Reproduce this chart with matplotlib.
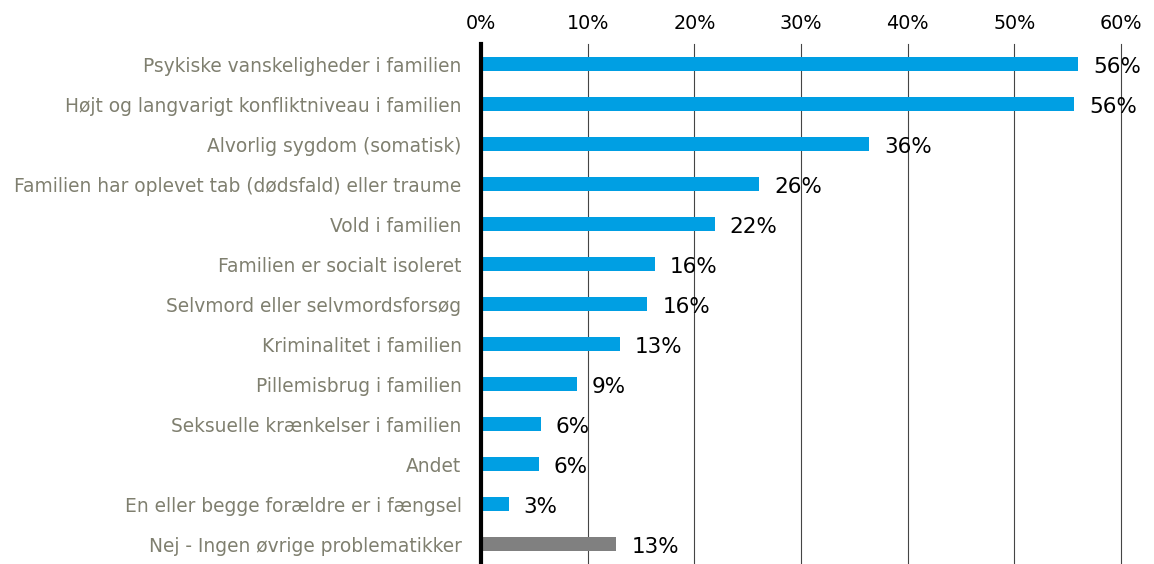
import matplotlib.pyplot as plt
from matplotlib.ticker import FuncFormatter

plt.rcParams["font.family"] = ["DejaVu Sans"]

categories = [
    "Psykiske vanskeligheder i familien",
    "Højt og langvarigt konfliktniveau i familien",
    "Alvorlig sygdom (somatisk)",
    "Familien har oplevet tab (dødsfald) eller traume",
    "Vold i familien",
    "Familien er socialt isoleret",
    "Selvmord eller selvmordsforsøg",
    "Kriminalitet i familien",
    "Pillemisbrug i familien",
    "Seksuelle krænkelser i familien",
    "Andet",
    "En eller begge forældre er i fængsel",
    "Nej - Ingen øvrige problematikker",
]
values = [56.0, 55.6, 36.4, 26.1, 21.9, 16.3, 15.6, 13.0, 9.0, 5.6, 5.4, 2.6, 12.7]
labels = ["56%", "56%", "36%", "26%", "22%", "16%", "16%", "13%", "9%", "6%", "6%", "3%", "13%"]
colors = ["#009fe3"] * 12 + ["#808080"]

fig = plt.figure(figsize=(11.54, 5.64), dpi=100)
ax = fig.add_axes([481 / 1154, 0.0, (1121 - 481) / 1154, 520 / 564])

y = list(range(len(categories)))
ax.barh(y, values, height=0.37, color=colors, zorder=2)
for yi, v, lab in zip(y, values, labels):
    ax.text(v + 1.4, yi + 0.07, lab, va="center", ha="left", fontsize=15.5, color="black", zorder=3)

ax.set_xlim(0, 60)
ax.set_ylim(len(categories) - 0.5, -0.5)
ax.set_xticks(range(0, 61, 10))
ax.xaxis.set_major_formatter(FuncFormatter(lambda x, p: f"{int(x)}%"))
ax.xaxis.tick_top()
ax.tick_params(axis="x", length=0, pad=8, labelsize=13.8)
ax.set_yticks(y)
ax.set_yticklabels(categories, fontsize=13.4, color="#7f7f6f")
ax.tick_params(axis="y", length=0, pad=14)
ax.grid(axis="x", color="#454545", lw=0.8, zorder=1)
for gl in ax.get_xgridlines():
    gl.set_clip_on(False)
for s in ["top", "right", "bottom"]:
    ax.spines[s].set_visible(False)
ax.spines["left"].set_linewidth(3)
ax.spines["left"].set_color("black")
ax.spines["left"].set_zorder(4)

fig.savefig("out.png", dpi=100)
